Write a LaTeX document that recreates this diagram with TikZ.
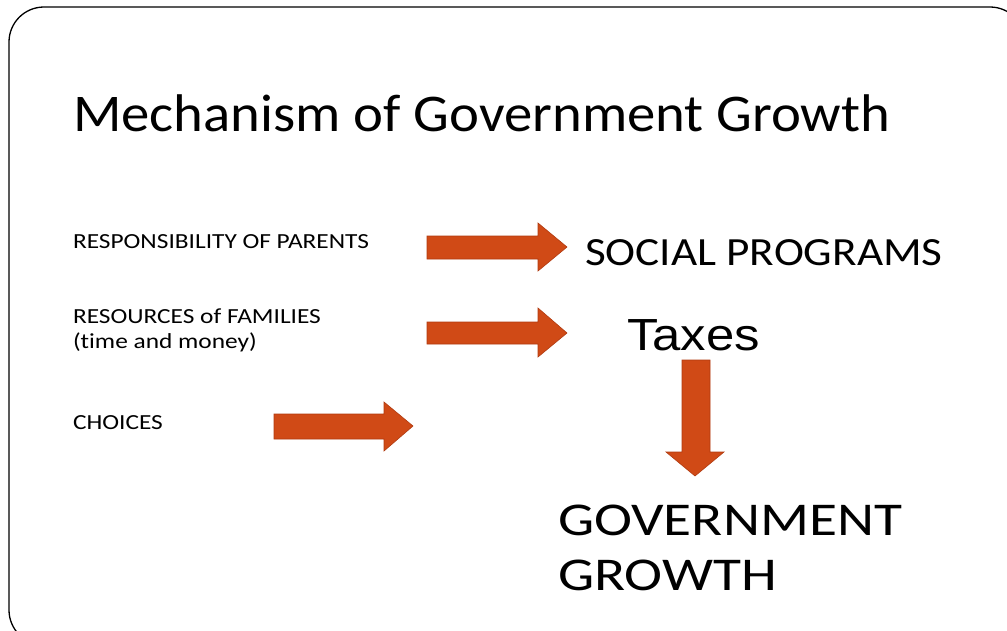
\documentclass[tikz,border=0pt]{standalone}
\usepackage{fontspec}
\setmainfont[Ligatures=NoCommon]{Carlito}
\newfontfamily\arialf{Liberation Sans}
\usepackage{graphicx}
\definecolor{arrfill}{RGB}{208,74,22}
\definecolor{arrline}{RGB}{176,58,16}
\tikzset{
  txt/.style={anchor=base west, inner sep=0pt, outer sep=0pt, text=black},
  blockarrow/.style={fill=arrfill, draw=arrline, line width=0.6pt, line join=miter},
}
\newcommand{\wide}[2][1.15]{\scalebox{#1}[1]{#2}}
\begin{document}
\begin{tikzpicture}[x=1pt,y=-1pt]
\useasboundingbox (0,0) rectangle (1007,630);
\fill[white] (0,0) rectangle (1007,630);
\clip (0,0) rectangle (1007,630);
\draw[line width=1.3pt, rounded corners=35pt] (9,7) rectangle (1025,645);
% texts
\node[txt, font=\fontsize{53}{60}\selectfont] (title) at (73,131) {\wide[1.07]{Mechanism of Government Growth}};
\node[txt, font=\fontsize{21.5}{24}\selectfont] (resp) at (73,248) {\wide[1.18]{RESPONSIBILITY OF PARENTS}};
\node[txt, font=\fontsize{21.5}{24}\selectfont] (reso) at (73,323) {\wide[1.18]{RESOURCES of FAMILIES}};
\node[txt, font=\fontsize{21.5}{24}\selectfont] (resob) at (73,348) {\wide[1.18]{(time and money)}};
\node[txt, font=\fontsize{21.5}{24}\selectfont] (choices) at (73,429) {\wide[1.18]{CHOICES}};
\node[txt, font=\fontsize{40}{48}\selectfont] (social) at (585,265) {\wide[1.13]{SOCIAL PROGRAMS}};
\node[txt, font=\arialf\fontsize{45}{54}\selectfont] (taxes) at (627,350) {\wide[1.13]{Taxes}};
\node[txt, font=\fontsize{47}{56}\selectfont] (gov) at (558,535) {\wide[1.22]{GOVERNMENT}};
\node[txt, font=\fontsize{47}{56}\selectfont] (growth) at (558,590) {\wide[1.22]{GROWTH}};
% block arrows
\draw[blockarrow] (427,236) -- (538,236) -- (538,223) -- (567,247) -- (538,271) -- (538,259) -- (427,259) -- cycle;
\draw[blockarrow] (427,322) -- (538,322) -- (538,308) -- (567,333) -- (538,357) -- (538,344) -- (427,344) -- cycle;
\draw[blockarrow] (274,414) -- (384,414) -- (384,402) -- (413,426) -- (384,451) -- (384,439) -- (274,439) -- cycle;
\draw[blockarrow] (682,360) -- (710,360) -- (710,452) -- (724,452) -- (695,476) -- (666,452) -- (682,452) -- cycle;
\end{tikzpicture}
\end{document}
